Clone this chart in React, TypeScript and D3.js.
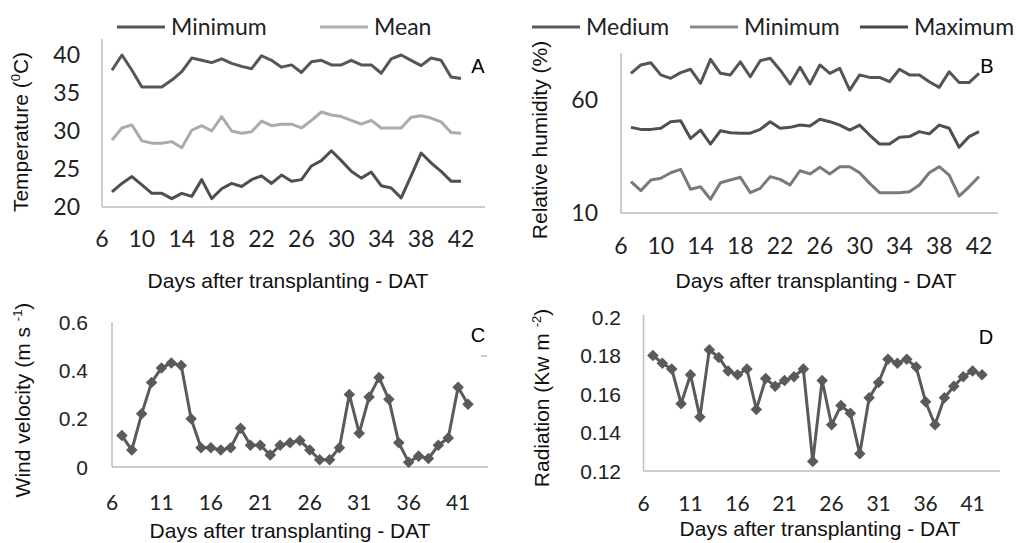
import React from 'react';
import * as d3 from 'd3';

const days = [7, 8, 9, 10, 11, 12, 13, 14, 15, 16, 17, 18, 19, 20, 21, 22, 23, 24, 25, 26, 27, 28, 29, 30, 31, 32, 33, 34, 35, 36, 37, 38, 39, 40, 41, 42];

const tempMax = [38.0, 40.0, 38.0, 35.8, 35.8, 35.8, 36.7, 37.8, 39.6, 39.3, 39.0, 39.5, 38.9, 38.5, 38.2, 39.9, 39.3, 38.4, 38.7, 37.7, 39.1, 39.3, 38.7, 38.7, 39.3, 38.7, 38.7, 37.6, 39.5, 40.0, 39.3, 38.6, 39.6, 39.3, 37.1, 36.9];
const tempMean = [28.8, 30.4, 30.8, 28.7, 28.4, 28.4, 28.6, 27.8, 30.1, 30.7, 30.0, 31.9, 30.0, 29.7, 29.9, 31.3, 30.7, 30.9, 30.9, 30.4, 31.4, 32.5, 32.1, 31.9, 31.4, 30.9, 31.4, 30.4, 30.4, 30.4, 31.8, 32.0, 31.7, 31.2, 29.8, 29.7];
const tempMin = [22.0, 23.1, 24.0, 22.9, 21.8, 21.8, 21.1, 21.8, 21.4, 23.6, 21.1, 22.4, 23.1, 22.7, 23.6, 24.1, 23.1, 24.2, 23.4, 23.6, 25.4, 26.1, 27.4, 26.1, 24.7, 23.8, 24.6, 22.8, 22.5, 21.2, 24.1, 27.1, 25.8, 24.7, 23.4, 23.4];

const humMax = [71.8, 75.5, 76.5, 71.1, 69.6, 72.1, 73.6, 67.4, 78.0, 71.8, 71.1, 76.9, 70.3, 77.4, 78.5, 73.3, 67.1, 74.5, 67.1, 75.5, 71.8, 74.0, 64.4, 71.1, 70.0, 70.0, 68.1, 73.6, 71.1, 71.1, 68.1, 65.6, 72.5, 67.7, 67.7, 71.8];
const humMed = [47.9, 47.0, 47.0, 47.5, 50.4, 50.8, 43.0, 46.7, 40.5, 46.4, 45.5, 45.3, 45.3, 47.0, 50.4, 47.5, 47.9, 48.9, 48.5, 51.5, 50.4, 48.9, 46.7, 48.9, 44.5, 40.5, 40.5, 43.5, 43.8, 46.0, 45.0, 48.9, 47.5, 39.1, 43.8, 46.0];
const humMin = [23.9, 19.9, 24.6, 25.4, 27.8, 29.3, 20.5, 21.6, 16.1, 23.4, 24.6, 25.8, 19.0, 20.9, 26.1, 24.9, 22.4, 28.7, 27.3, 30.2, 27.3, 30.5, 30.5, 27.8, 23.1, 19.0, 19.0, 19.0, 19.4, 22.4, 27.8, 30.5, 26.8, 17.5, 21.6, 26.1];

const wind = [0.13, 0.07, 0.22, 0.35, 0.41, 0.43, 0.42, 0.20, 0.08, 0.08, 0.07, 0.08, 0.16, 0.09, 0.09, 0.05, 0.09, 0.10, 0.11, 0.07, 0.03, 0.03, 0.08, 0.30, 0.14, 0.29, 0.37, 0.28, 0.10, 0.02, 0.045, 0.035, 0.09, 0.12, 0.33, 0.26];
const radiation = [0.180, 0.176, 0.173, 0.155, 0.170, 0.148, 0.183, 0.179, 0.172, 0.170, 0.173, 0.152, 0.168, 0.164, 0.167, 0.169, 0.173, 0.125, 0.167, 0.144, 0.154, 0.150, 0.129, 0.158, 0.166, 0.178, 0.176, 0.178, 0.174, 0.156, 0.144, 0.158, 0.164, 0.169, 0.172, 0.170];

const ticksAB = [6, 10, 14, 18, 22, 26, 30, 34, 38, 42];
const ticksCD = [6, 11, 16, 21, 26, 31, 36, 41];
const tempTicks = [20, 25, 30, 35, 40];
const humTicks = [10, 60];
const windTicks = [0, 0.2, 0.4, 0.6];
const radTicks = [0.12, 0.14, 0.16, 0.18, 0.2];

const TICK_FONT = 'Lato, "Open Sans", sans-serif';
const TITLE_FONT = '"Liberation Sans", Arial, sans-serif';
const AXIS = '#bdbdbd';

type Series = { values: number[]; color: string; width: number };

interface PanelProps {
  x: d3.ScaleLinear<number, number>;
  y: d3.ScaleLinear<number, number>;
  xTicks: number[];
  yTicks: number[];
  yFmt: (v: number) => string;
  series: Series[];
  markers?: boolean;
  axisRight: number;
  axisTop: number;
  xTickY: number;
  yTickX: number;
  tickSize: number;
  yTickFont?: string;
}

const Panel: React.FC<PanelProps> = ({x, y, xTicks, yTicks, yFmt, series, markers, axisRight, axisTop, xTickY, yTickX, tickSize, yTickFont}) => {
  const x0 = x(xTicks[0]);
  const y0 = y(yTicks[0]);
  const line = (vals: number[]) =>
    d3.line<number>().x((_, i) => x(days[i])).y(v => y(v))(vals) || '';
  const diamond = d3.symbol().type(d3.symbolDiamond2).size(85)();
  return (
    <g>
      <line x1={x0} x2={x0} y1={axisTop} y2={y0} stroke={AXIS} strokeWidth={1.5} />
      <line x1={x0} x2={axisRight} y1={y0} y2={y0} stroke={AXIS} strokeWidth={1.5} />
      {yTicks.map(t => (
        <text key={'y' + t} x={yTickX} y={y(t)} dy="0.36em" textAnchor="end"
              fontFamily={yTickFont || TICK_FONT} fontSize={tickSize} fill="#222">{yFmt(t)}</text>
      ))}
      {xTicks.map(t => (
        <text key={'x' + t} x={x(t)} y={xTickY} dy="0.36em" textAnchor="middle"
              fontFamily={TICK_FONT} fontSize={tickSize} fill="#222">{t}</text>
      ))}
      {series.map((s, k) => (
        <path key={k} d={line(s.values)} fill="none" stroke={s.color} strokeWidth={s.width}
              strokeLinejoin="round" />
      ))}
      {markers && series.map((s, k) => s.values.map((v, i) => (
        <path key={k + '-' + i} d={diamond} transform={`translate(${x(days[i])},${y(v)})`} fill={s.color} />
      )))}
    </g>
  );
};

const Legend: React.FC<{ items: { label: string; color: string; x: number }[]; y: number }> = ({items, y}) => (
  <g>
    {items.map(it => (
      <g key={it.label}>
        <line x1={it.x} x2={it.x + 48} y1={y} y2={y} stroke={it.color} strokeWidth={3} />
        <text x={it.x + 54} y={y} dy="0.36em" fontFamily={TICK_FONT} fontSize={23} fill="#222">{it.label}</text>
      </g>
    ))}
  </g>
);

const YTitle: React.FC<{ x: number; y: number; main: string; sup: string; tail: string }> = ({x, y, main, sup, tail}) => (
  <text transform={`translate(${x},${y}) rotate(-90)`} textAnchor="middle" fontFamily={TITLE_FONT}
        fontSize={21} fill="#111">
    {main}
    <tspan dy={-8} fontSize={13}>{sup}</tspan>
    <tspan dy={8}>{tail}</tspan>
  </text>
);

const XTitle: React.FC<{ x: number; y: number }> = ({x, y}) => (
  <text x={x} y={y} dy="0.36em" textAnchor="middle" fontFamily={TITLE_FONT} fontSize={21} fill="#111">
    Days after transplanting - DAT
  </text>
);

const App: React.FC = () => {
  const xA = d3.scaleLinear().domain([6, 42]).range([102, 461]);
  const yA = d3.scaleLinear().domain([20, 40]).range([207, 55]);
  const xB = d3.scaleLinear().domain([6, 42]).range([621, 979]);
  const yB = d3.scaleLinear().domain([10, 60]).range([213, 100]);
  const xC = d3.scaleLinear().domain([6, 42]).range([112, 468]);
  const yC = d3.scaleLinear().domain([0, 0.6]).range([467, 322]);
  const xD = d3.scaleLinear().domain([6, 42]).range([643.5, 982]);
  const yD = d3.scaleLinear().domain([0.12, 0.2]).range([471, 317]);

  const dark = '#565656';
  const arial = '"Liberation Sans", Arial, sans-serif';
  return (
    <svg width={1016} height={543} style={{position: 'absolute', left: 0, top: 0, background: '#fff'}}>
      {/* A */}
      <Legend y={27} items={[{label: 'Minimum', color: dark, x: 117}, {label: 'Mean', color: '#b0b0b0', x: 320}]} />
      <Panel x={xA} y={yA} xTicks={ticksAB} yTicks={tempTicks} yFmt={d => String(d)}
             series={[{values: tempMax, color: dark, width: 3}, {values: tempMean, color: '#ababab', width: 3},
               {values: tempMin, color: '#4f4f4f', width: 3}]}
             axisRight={485} axisTop={39} xTickY={239} yTickX={80} tickSize={23} />
      <text x={478} y={66} dy="0.36em" textAnchor="middle" fontFamily={TITLE_FONT} fontSize={20}>A</text>
      <YTitle x={28} y={132} main="Temperature (" sup="0" tail="C)" />
      <XTitle x={288} y={280} />

      {/* B */}
      <Legend y={27} items={[{label: 'Medium', color: '#5a5a5a', x: 532}, {label: 'Minimum', color: '#8a8a8a', x: 690},
        {label: 'Maximum', color: '#474747', x: 860}]} />
      <Panel x={xB} y={yB} xTicks={ticksAB} yTicks={humTicks} yFmt={d => String(d)}
             series={[{values: humMax, color: '#555555', width: 3}, {values: humMed, color: '#505050', width: 3},
               {values: humMin, color: '#7a7a7a', width: 3}]}
             axisRight={998} axisTop={53} xTickY={246} yTickX={598} tickSize={23} />
      <text x={987} y={66} dy="0.36em" textAnchor="middle" fontFamily={TITLE_FONT} fontSize={20}>B</text>
      <YTitle x={547} y={140} main="Relative humidity (%)" sup="" tail="" />
      <XTitle x={816} y={280} />

      {/* C */}
      <Panel x={xC} y={yC} xTicks={ticksCD} yTicks={windTicks} yFmt={d => (d === 0 ? '0' : String(d))}
             series={[{values: wind, color: '#5a5a5a', width: 3}]} markers
             axisRight={488} axisTop={322} xTickY={502} yTickX={88} tickSize={21} yTickFont={arial} />
      <text x={478} y={335} dy="0.36em" textAnchor="middle" fontFamily={TITLE_FONT} fontSize={20}>C</text>
      <line x1={481} x2={487} y1={356} y2={356} stroke="#999" strokeWidth={1} />
      <YTitle x={30} y={400} main="Wind velocity (m s " sup="-1" tail=")" />
      <XTitle x={290} y={530} />

      {/* D */}
      <Panel x={xD} y={yD} xTicks={ticksCD} yTicks={radTicks} yFmt={d => String(d)}
             series={[{values: radiation, color: '#5a5a5a', width: 3}]} markers
             axisRight={1000} axisTop={315} xTickY={503} yTickX={621} tickSize={21} yTickFont={arial} />
      <text x={986} y={337} dy="0.36em" textAnchor="middle" fontFamily={TITLE_FONT} fontSize={20}>D</text>
      <YTitle x={549} y={398} main="Radiation (Kw m " sup="-2" tail=")" />
      <XTitle x={820} y={528} />
    </svg>
  );
};

export default App;
